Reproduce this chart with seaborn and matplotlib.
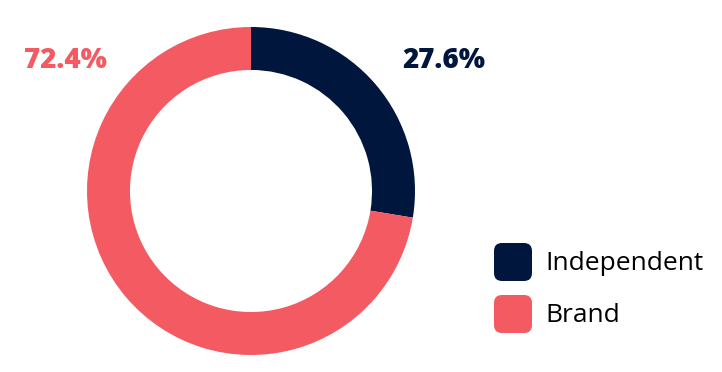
import numpy as np
import seaborn as sns
import matplotlib.pyplot as plt
from matplotlib.patches import FancyBboxPatch

categories = ["Independent", "Brand"]
shares = [27.6, 72.4]
pct_labels = ["27.6%", "72.4%"]
colors = ["#00163D", "#F45A61"]

sns.set_theme(style="white")
plt.rcParams['font.family'] = ['Open Sans', 'DejaVu Sans']

fig = plt.figure(figsize=(7.22, 3.72), dpi=100)
W, H = 722, 372

# donut axes, pixel box 87..415 x 27..355
ax = fig.add_axes([87 / W, (H - 355) / H, 328 / W, 328 / H])
ax.pie(shares, colors=colors, startangle=90, counterclock=False, radius=1,
       wedgeprops=dict(width=0.262, linewidth=0))
ax.set_xlim(-1, 1)
ax.set_ylim(-1, 1)
ax.set_aspect('equal')
ax.axis('off')

# percentage labels
fig.text(444 / W, 1 - 61 / H, pct_labels[0], color=colors[0], fontsize=20,
         fontweight='heavy', ha='center', va='center')
fig.text(65 / W, 1 - 61 / H, pct_labels[1], color=colors[1], fontsize=20,
         fontweight='heavy', ha='center', va='center')

# legend with rounded squares
lax = fig.add_axes([0, 0, 1, 1])
lax.set_xlim(0, W)
lax.set_ylim(H, 0)
lax.axis('off')
for i, (cat, c) in enumerate(zip(categories, colors)):
    y0 = 243 + i * 52
    lax.add_patch(FancyBboxPatch((494, y0), 38, 38,
                                 boxstyle="round,pad=0,rounding_size=8",
                                 fc=c, ec='none'))
    lax.text(545, y0 + 20, cat, fontsize=19, color='black', va='center', ha='left')

fig.savefig("out.png", dpi=100)
